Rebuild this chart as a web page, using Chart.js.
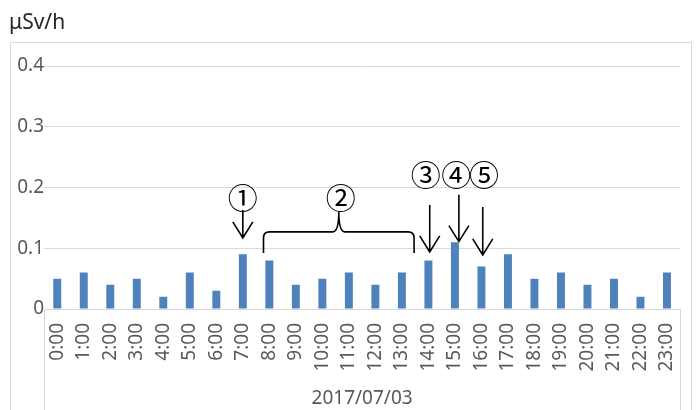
<!DOCTYPE html>
<html>
<head>
<meta charset="utf-8">
<script src="https://cdn.jsdelivr.net/npm/chart.js@4"></script>
<style>
  html, body { margin: 0; padding: 0; background: #fff; }
  #wrap { width: 696px; height: 410px; }
</style>
</head>
<body>
<div id="wrap"><canvas id="dose"></canvas></div>
<script>
// hourly readings, 2017/07/03
var hours = ['0:00', '1:00', '2:00', '3:00', '4:00', '5:00', '6:00', '7:00', '8:00', '9:00', '10:00', '11:00',
	'12:00', '13:00', '14:00', '15:00', '16:00', '17:00', '18:00', '19:00', '20:00', '21:00', '22:00', '23:00'];
var doseRate = [0.05, 0.06, 0.04, 0.05, 0.02, 0.06, 0.03, 0.09, 0.08, 0.04, 0.05, 0.06,
	0.04, 0.06, 0.08, 0.11, 0.07, 0.09, 0.05, 0.06, 0.04, 0.05, 0.02, 0.06];
var dateLabel = '2017/07/03';
var unitLabel = 'μSv/h';

// callouts: label, position on x (category index), label height, arrow top, arrow tip (in μSv/h)
var markLabels = ['①', '③', '④', '⑤'];
var markIndex = [7, 13.9, 15.05, 16.1];
var markLabelY = [0.184, 0.221, 0.221, 0.221];
var markArrowX = [7, 14.05, 15.15, 16.05];
var markArrowTop = [0.163, 0.171, 0.188, 0.168];
var markArrowTip = [0.117, 0.094, 0.111, 0.089];
// brace ②: from, middle, to (index) / ends, bar, cusp (value)
var braceIndex = [7.78, 10.62, 13.46];
var braceY = [0.092, 0.127, 0.160];
var braceLabel = '②';
var braceLabelY = 0.184;

var gridColor = '#d9d9d9';

var annotations = {
	id: 'annotations',
	beforeDraw: function(chart) {
		var c = chart.ctx, a = chart.chartArea;
		c.save();
		c.strokeStyle = gridColor;
		c.lineWidth = 1;
		c.strokeRect(10.5, 42.5, 681, 420);
		// category group box
		c.beginPath();
		c.moveTo(Math.round(a.left) + 0.5, a.bottom);
		c.lineTo(Math.round(a.left) + 0.5, chart.height);
		c.moveTo(Math.round(a.right) + 0.5, a.bottom);
		c.lineTo(Math.round(a.right) + 0.5, chart.height);
		c.stroke();
		c.fillStyle = '#262626';
		c.font = '21px "Noto Sans"';
		c.textBaseline = 'alphabetic';
		c.fillText(unitLabel, 9, 29);
		c.restore();
	},
	afterDatasetsDraw: function(chart) {
		var c = chart.ctx, xs = chart.scales.x, ys = chart.scales.y;
		c.save();
		c.strokeStyle = '#000';
		c.fillStyle = '#000';
		c.lineWidth = 1.6;
		c.font = '30px "Noto Sans CJK JP"';
		c.textAlign = 'center';
		c.textBaseline = 'middle';
		for (var i = 0; i < markLabels.length; i++) {
			c.fillText(markLabels[i], xs.getPixelForValue(markIndex[i]), ys.getPixelForValue(markLabelY[i]));
			var x = xs.getPixelForValue(markArrowX[i]);
			var y0 = ys.getPixelForValue(markArrowTop[i]);
			var y1 = ys.getPixelForValue(markArrowTip[i]);
			c.beginPath();
			c.moveTo(x, y0);
			c.lineTo(x, y1);
			c.moveTo(x - 10, y1 - 16);
			c.lineTo(x, y1);
			c.lineTo(x + 10, y1 - 16);
			c.stroke();
		}
		var bl = xs.getPixelForValue(braceIndex[0]);
		var bm = xs.getPixelForValue(braceIndex[1]);
		var br = xs.getPixelForValue(braceIndex[2]);
		var yEnd = ys.getPixelForValue(braceY[0]);
		var yBar = ys.getPixelForValue(braceY[1]);
		var yCusp = ys.getPixelForValue(braceY[2]);
		var r = 6;
		c.beginPath();
		c.moveTo(bl, yEnd);
		c.lineTo(bl, yBar + r);
		c.quadraticCurveTo(bl, yBar, bl + r, yBar);
		c.lineTo(bm - r, yBar);
		c.quadraticCurveTo(bm, yBar, bm, yCusp);
		c.quadraticCurveTo(bm, yBar, bm + r, yBar);
		c.lineTo(br - r, yBar);
		c.quadraticCurveTo(br, yBar, br, yBar + r);
		c.lineTo(br, yEnd);
		c.stroke();
		c.fillText(braceLabel, bm + 2, ys.getPixelForValue(braceLabelY));
		c.restore();
	}
};

new Chart(document.getElementById('dose'), {
	type: 'bar',
	data: {
		labels: hours,
		datasets: [{
			data: doseRate,
			backgroundColor: '#4f81bd',
			barPercentage: 0.3,
			categoryPercentage: 1
		}]
	},
	options: {
		responsive: true,
		maintainAspectRatio: false,
		animation: false,
		layout: { padding: { left: 10, right: 10, top: 66, bottom: 0 } },
		plugins: {
			legend: { display: false },
			tooltip: { enabled: false }
		},
		scales: {
			y: {
				min: 0,
				max: 0.4,
				afterFit: function(scale) { scale.width = 34; },
				border: { display: false },
				grid: { color: gridColor, drawTicks: false, lineWidth: 1 },
				ticks: {
					stepSize: 0.1,
					padding: 0,
					color: '#595959',
					font: { family: 'Noto Sans', size: 19 },
					callback: function(v) { return v === 0 ? '0' : v.toFixed(1); }
				}
			},
			x: {
				afterFit: function(scale) { scale.height = 101; },
				border: { display: false },
				grid: { display: false },
				ticks: {
					minRotation: 90,
					maxRotation: 90,
					autoSkip: false,
					padding: 6,
					color: '#595959',
					font: { family: 'Noto Sans', size: 19 }
				},
				title: {
					display: true,
					text: dateLabel,
					color: '#595959',
					font: { family: 'Noto Sans', size: 19 },
					padding: { top: 0, bottom: 0 }
				}
			}
		}
	},
	plugins: [annotations]
});
</script>
</body>
</html>
